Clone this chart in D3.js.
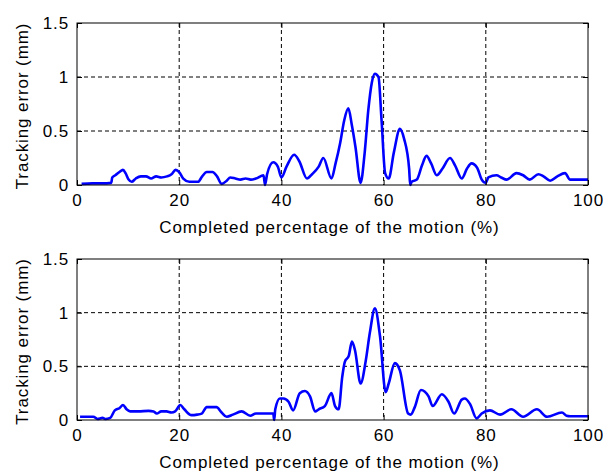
<!DOCTYPE html>
<html>
<head>
<meta charset="utf-8">
<script src="https://cdn.jsdelivr.net/npm/d3@7"></script>
<style>
  body { margin: 0; background: #fff; }
  text { font-family: "Liberation Sans", Arial, sans-serif; fill: #000; }
</style>
</head>
<body>
<div id="chart"></div>
<script>
// completed percentage of the motion (%), tracking error (mm)
const topX = [0.9, 3, 5, 6.7, 6.9, 7.5, 8.3, 9, 9.5, 10.1, 10.7, 11.5, 12.5, 13.5, 14.5, 15.5, 16.5, 17.6, 18.5, 19.3, 20, 20.8, 22, 23.7, 24.5, 25.4, 26.5, 27.4, 28.3, 29.3, 30, 31, 32, 33, 34, 35, 36.5, 36.8, 37.2, 38.4, 39.3, 40, 41, 42.5, 43.5, 45, 46, 47.3, 48.2, 49.8, 50.6, 51.5, 52.3, 53.1, 53.8, 54.5, 55.5, 56.3, 57, 57.7, 58.3, 59, 59.6, 60.3, 61, 62, 63.2, 64, 65, 65.2, 65.5, 66.5, 67.5, 68.4, 69.3, 70.4, 71.5, 73, 74, 75.3, 76.3, 77.2, 78.3, 79.2, 80, 80.5, 82.1, 83, 84.1, 86, 87.3, 88.6, 90.3, 91.3, 92.6, 94, 95.5, 96.5, 100];
const topY = [0.01, 0.015, 0.015, 0.02, 0.07, 0.09, 0.12, 0.14, 0.11, 0.05, 0.03, 0.06, 0.08, 0.08, 0.06, 0.08, 0.07, 0.08, 0.1, 0.14, 0.12, 0.06, 0.03, 0.03, 0.08, 0.12, 0.12, 0.08, 0.01, 0.04, 0.07, 0.06, 0.05, 0.06, 0.05, 0.06, 0.09, 0.0, 0.1, 0.21, 0.17, 0.07, 0.17, 0.28, 0.22, 0.06, 0.1, 0.17, 0.25, 0.06, 0.2, 0.39, 0.6, 0.71, 0.55, 0.35, 0.02, 0.3, 0.69, 0.95, 1.03, 1.0, 0.6, 0.11, 0.06, 0.3, 0.52, 0.43, 0.15, 0.0, 0.03, 0.05, 0.18, 0.27, 0.2, 0.09, 0.15, 0.25, 0.18, 0.06, 0.15, 0.2, 0.16, 0.05, 0.02, 0.07, 0.09, 0.07, 0.05, 0.11, 0.09, 0.05, 0.1, 0.08, 0.04, 0.08, 0.11, 0.05, 0.05];

const botX = [0.6, 3.2, 4, 5, 5.5, 6.5, 7.4, 8.3, 9, 9.7, 10.4, 12, 14, 15, 15.6, 16.5, 17.5, 18.5, 19.2, 20.2, 21, 22.4, 23.5, 24.4, 25.4, 27.3, 28.3, 29.3, 30.5, 32.2, 33.9, 35, 36.5, 37.5, 38.4, 38.6, 38.8, 39.7, 40.4, 41.4, 42.3, 43.6, 44.6, 45.6, 46.6, 47.3, 48.5, 49.8, 50.5, 51.2, 51.9, 52.4, 53.2, 53.8, 54.4, 55.5, 56.5, 57.3, 58.3, 59.3, 60.4, 61, 62.2, 63.2, 64.8, 65.3, 66.1, 67.3, 68.8, 69.6, 71.4, 72.7, 73.8, 75.3, 75.9, 76.9, 78.2, 79.2, 80.8, 82.8, 85, 87.3, 90, 92, 94.9, 95.8, 96.5, 100];
const botY = [0.03, 0.03, 0.01, 0.02, 0.01, 0.02, 0.09, 0.11, 0.14, 0.1, 0.08, 0.08, 0.085, 0.08, 0.06, 0.08, 0.08, 0.07, 0.08, 0.14, 0.1, 0.045, 0.05, 0.06, 0.12, 0.12, 0.07, 0.03, 0.05, 0.08, 0.04, 0.06, 0.06, 0.06, 0.06, 0.0, 0.1, 0.2, 0.2, 0.17, 0.09, 0.25, 0.27, 0.22, 0.08, 0.1, 0.13, 0.25, 0.13, 0.1, 0.4, 0.54, 0.6, 0.73, 0.65, 0.34, 0.55, 0.81, 1.04, 0.78, 0.26, 0.34, 0.53, 0.46, 0.06, 0.05, 0.12, 0.28, 0.22, 0.13, 0.24, 0.17, 0.06, 0.19, 0.2, 0.15, 0.015, 0.06, 0.09, 0.05, 0.1, 0.03, 0.1, 0.03, 0.07, 0.04, 0.035, 0.035];

const xTicks = [0, 20, 40, 60, 80, 100];
const yTicks = [0, 0.5, 1, 1.5];
const xLabel = "Completed percentage of the motion (%)";
const yLabel = "Tracking error (mm)";

const width = 603, height = 471;
const svg = d3.select("#chart").append("svg")
    .attr("width", width)
    .attr("height", height);

const panels = [
  {xs: topX, ys: topY, top: 23, bottom: 185},
  {xs: botX, ys: botY, top: 259, bottom: 420}
];

const left = 77, right = 588;
const fontSize = "17px", spacing = "0.9px";

panels.forEach(p => {
  const x = d3.scaleLinear().domain([0, 100]).range([left, right]);
  const y = d3.scaleLinear().domain([0, 1.5]).range([p.bottom, p.top]);
  const g = svg.append("g");

  // dashed grid
  g.selectAll(".gx").data(xTicks.slice(1, -1)).enter().append("line")
      .attr("x1", d => x(d)).attr("x2", d => x(d))
      .attr("y1", p.top).attr("y2", p.bottom)
      .attr("stroke", "#000").attr("stroke-dasharray", "4,3");
  g.selectAll(".gy").data(yTicks.slice(1, -1)).enter().append("line")
      .attr("y1", d => y(d)).attr("y2", d => y(d))
      .attr("x1", left).attr("x2", right)
      .attr("stroke", "#000").attr("stroke-dasharray", "4,3");

  // curve
  const line = d3.line().x(d => x(d[0])).y(d => y(d[1])).curve(d3.curveMonotoneX);
  g.append("path")
      .datum(d3.zip(p.xs, p.ys))
      .attr("d", line)
      .attr("fill", "none")
      .attr("stroke", "#0000ff")
      .attr("stroke-width", 2.6)
      .attr("stroke-linejoin", "round");

  // axes with inward ticks
  const xAxis = g.append("g").attr("transform", `translate(0,${p.bottom})`)
      .call(d3.axisBottom(x).tickValues(xTicks).tickSizeInner(-5).tickSizeOuter(0).tickPadding(9));
  const xAxisTop = g.append("g").attr("transform", `translate(0,${p.top})`)
      .call(d3.axisTop(x).tickValues(xTicks).tickSizeInner(-5).tickSizeOuter(0).tickFormat(""));
  const yAxis = g.append("g").attr("transform", `translate(${left},0)`)
      .call(d3.axisLeft(y).tickValues(yTicks).tickSizeInner(-5).tickSizeOuter(0).tickPadding(8)
        .tickFormat(d => d === 0 || d === 1 ? d3.format("d")(d) : d3.format(".1f")(d)));
  const yAxisR = g.append("g").attr("transform", `translate(${right},0)`)
      .call(d3.axisRight(y).tickValues(yTicks).tickSizeInner(-5).tickSizeOuter(0).tickFormat(""));
  [xAxis, xAxisTop, yAxis, yAxisR].forEach(a => {
    a.selectAll(".domain").remove();
    a.selectAll("line").attr("stroke", "#000");
    a.selectAll("text")
        .style("font-family", "'Liberation Sans', Arial, sans-serif")
        .style("font-size", fontSize)
        .style("letter-spacing", spacing);
  });

  // frame
  g.append("rect")
      .attr("x", left).attr("y", p.top)
      .attr("width", right - left).attr("height", p.bottom - p.top)
      .attr("fill", "none").attr("stroke", "#000");

  g.append("text")
      .attr("x", (left + right) / 2 - 3).attr("y", p.bottom + 48)
      .attr("text-anchor", "middle")
      .style("font-size", fontSize)
      .style("letter-spacing", spacing)
      .text(xLabel);

  g.append("text")
      .attr("transform", `translate(28,${(p.top + p.bottom) / 2 + 2}) rotate(-90)`)
      .attr("text-anchor", "middle")
      .style("font-size", fontSize)
      .style("letter-spacing", spacing)
      .text(yLabel);
});
</script>
</body>
</html>
